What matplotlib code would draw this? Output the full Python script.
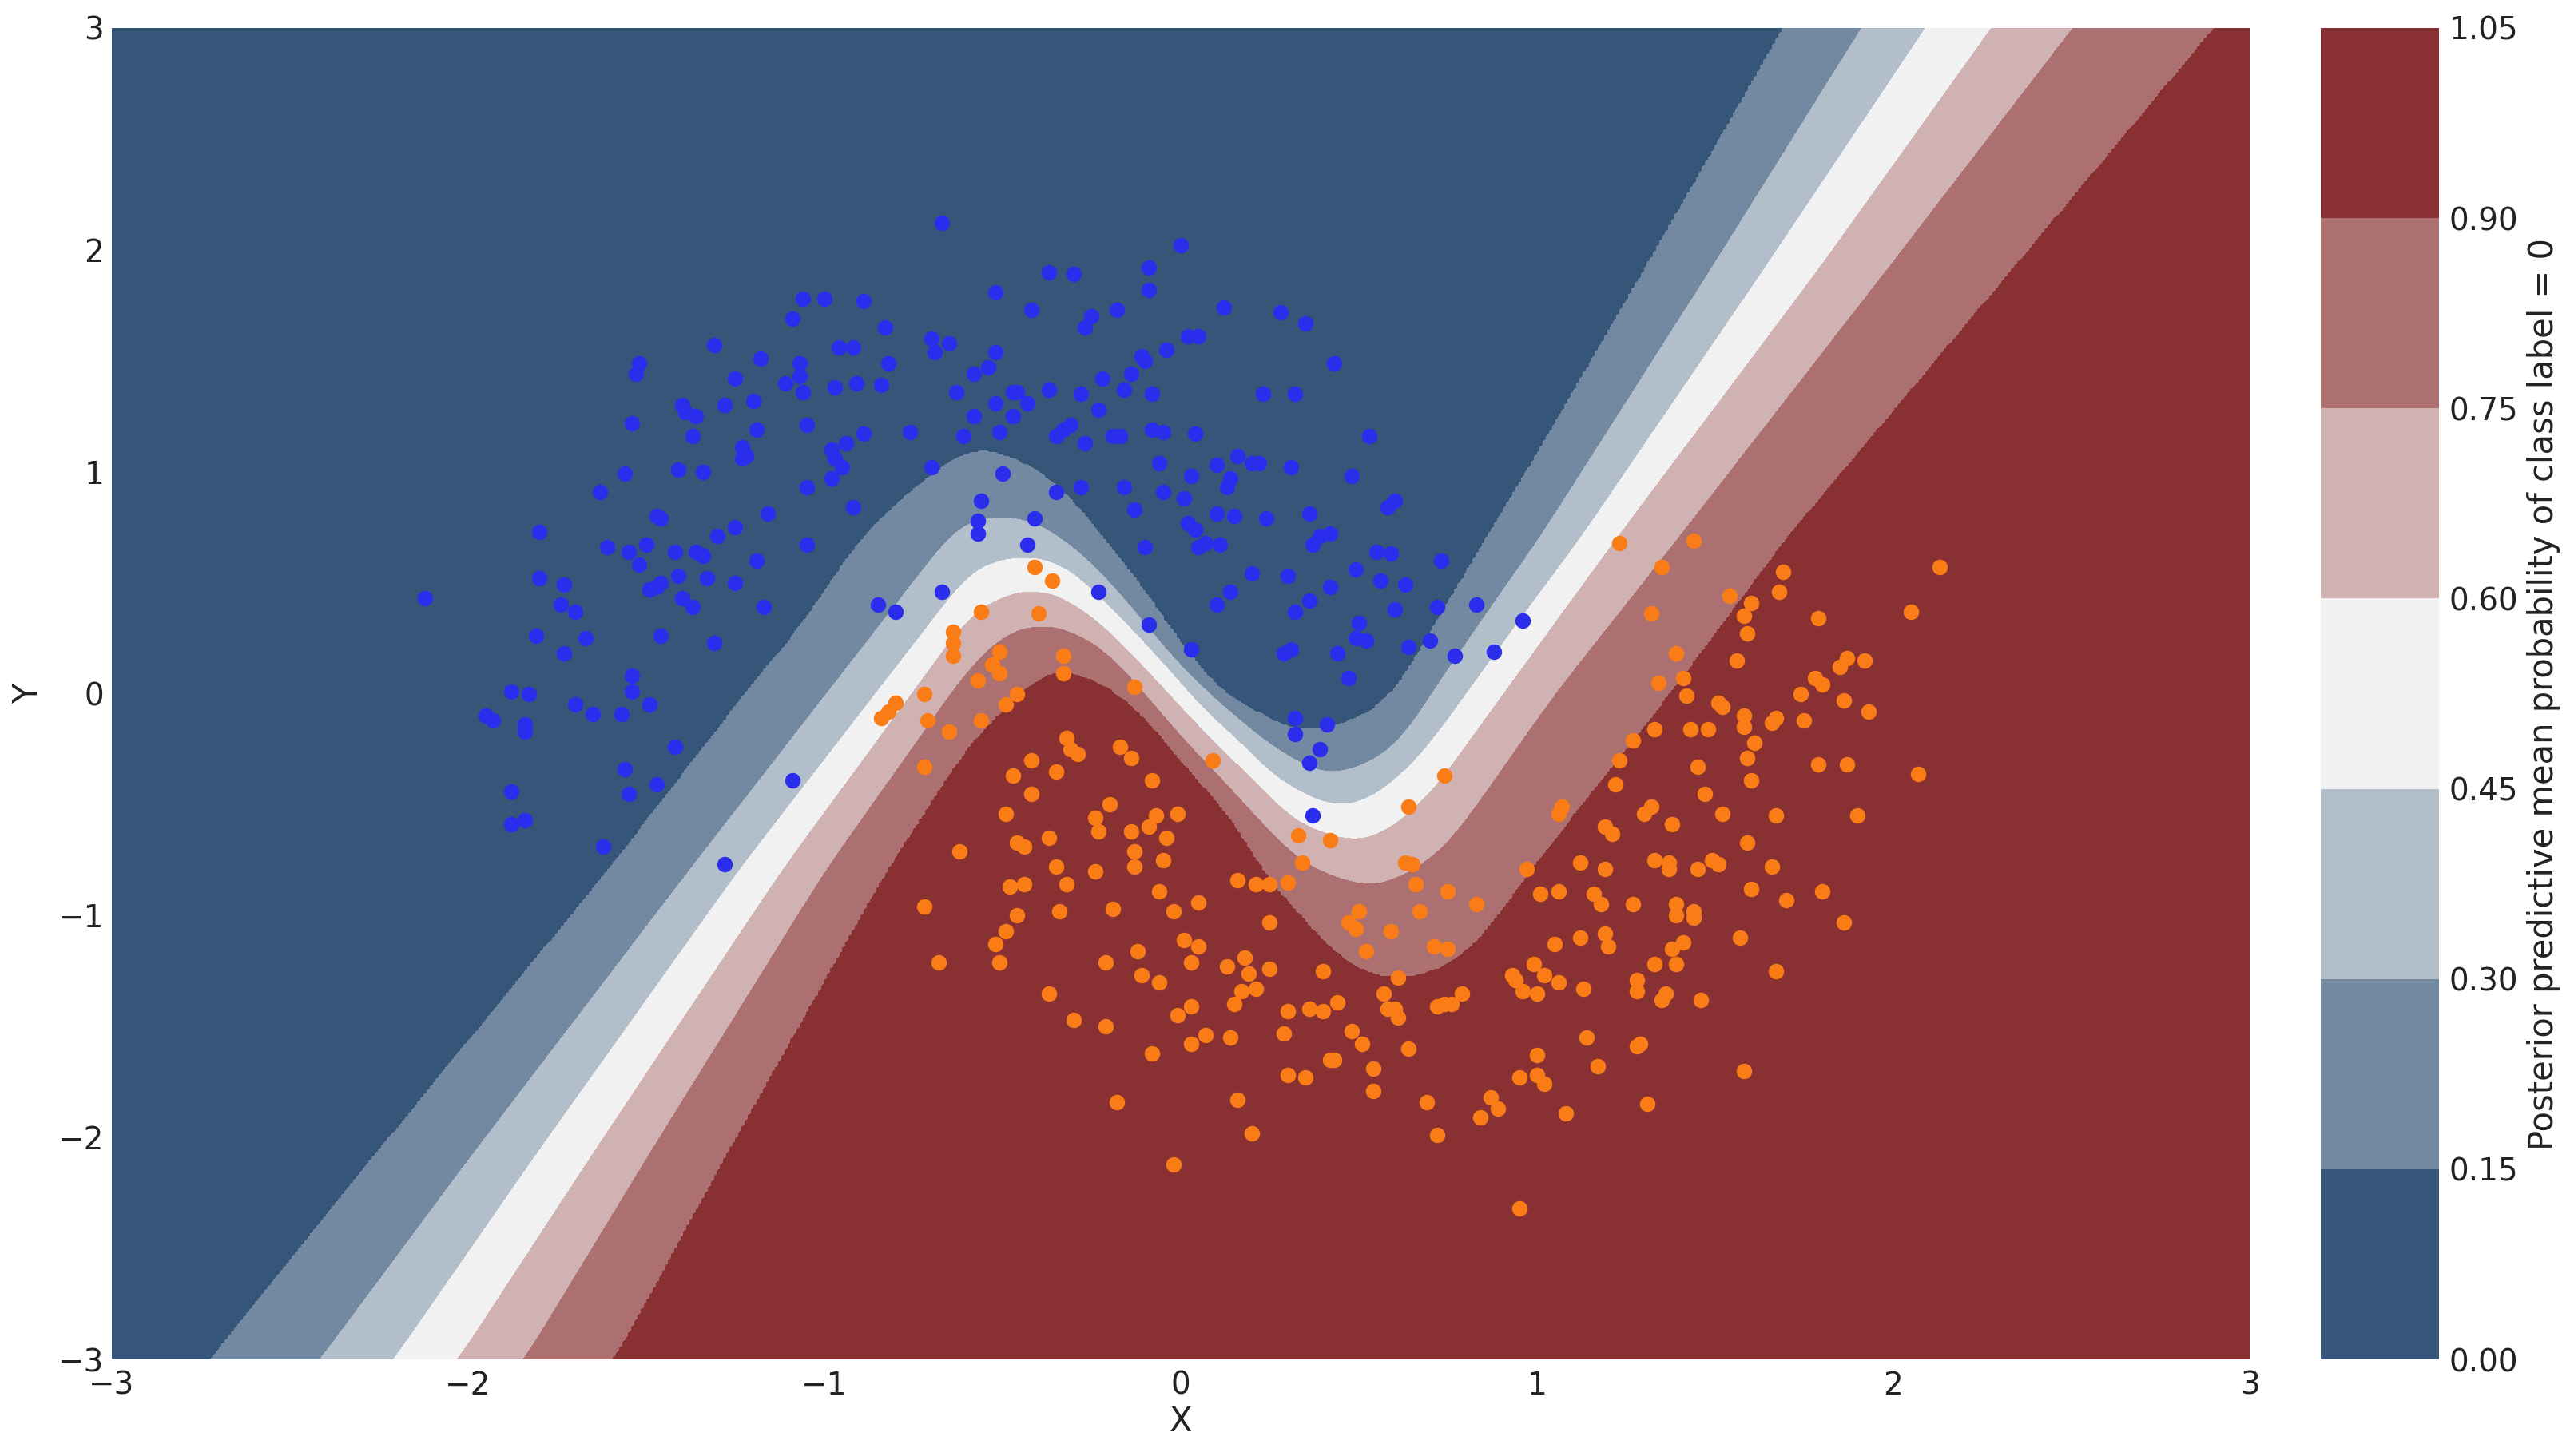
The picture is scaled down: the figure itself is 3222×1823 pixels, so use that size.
import numpy as np
import matplotlib
matplotlib.use("Agg")
import matplotlib.pyplot as plt
import seaborn as sns

# test points, coloured by predicted class
class0_pts = np.array([
    (-0.67, 2.12), (-1.06, 1.78), (-1.00, 1.78), (-0.89, 1.77), (-1.09, 1.69), (-0.83, 1.65), (-1.31, 1.57),
    (-0.70, 1.60), (-0.65, 1.58), (-0.69, 1.54), (-0.96, 1.56), (-0.92, 1.56), (-1.18, 1.51), (-1.52, 1.49),
    (-1.53, 1.44), (-1.07, 1.49), (-1.07, 1.43), (-0.82, 1.49), (-1.25, 1.42), (-1.11, 1.40), (-1.06, 1.36),
    (-0.97, 1.38), (-0.91, 1.40), (-0.84, 1.39), (-0.63, 1.36), (-1.40, 1.30), (-1.39, 1.27), (-1.36, 1.25),
    (-1.28, 1.30), (-1.20, 1.32), (-1.54, 1.22), (-1.37, 1.16), (-1.19, 1.19), (-1.05, 1.21), (-0.89, 1.17),
    (-0.76, 1.18), (-0.61, 1.16), (-1.23, 1.11), (-1.22, 1.07), (-1.23, 1.06), (-0.98, 1.10), (-0.97, 1.06),
    (-0.95, 1.02), (-0.94, 1.13), (-0.98, 0.97), (-0.70, 1.02), (-1.56, 0.99), (-1.41, 1.01), (-1.34, 1.00),
    (-1.63, 0.91), (-1.05, 0.93), (-1.47, 0.80), (-1.46, 0.79), (-1.16, 0.81), (-0.92, 0.84), (-1.25, 0.75),
    (-1.80, 0.73), (-1.30, 0.71),
    (0.00, 2.02), (-0.37, 1.90), (-0.30, 1.89), (-0.09, 1.92), (-0.09, 1.82), (-0.52, 1.81), (-0.42, 1.73),
    (-0.25, 1.70), (-0.27, 1.65), (-0.18, 1.73), (0.12, 1.74), (0.28, 1.72), (0.35, 1.67), (0.02, 1.61),
    (0.05, 1.61), (-0.04, 1.55), (-0.11, 1.52), (-0.10, 1.50), (-0.52, 1.54), (-0.54, 1.47), (-0.58, 1.44),
    (0.43, 1.49), (-0.14, 1.44), (-0.22, 1.42), (-0.16, 1.37), (-0.47, 1.36), (-0.46, 1.36), (-0.37, 1.37),
    (-0.28, 1.35), (-0.08, 1.35), (0.23, 1.35), (0.32, 1.35), (-0.52, 1.31), (-0.43, 1.31), (-0.23, 1.28),
    (-0.58, 1.25), (-0.47, 1.25), (-0.51, 1.18), (-0.31, 1.21), (-0.33, 1.19), (-0.35, 1.16), (-0.27, 1.13),
    (-0.19, 1.16), (-0.17, 1.16), (-0.08, 1.19), (-0.05, 1.18), (0.04, 1.17), (0.53, 1.16), (-0.50, 0.99),
    (-0.06, 1.04), (0.10, 1.03), (0.16, 1.07), (0.20, 1.04), (0.22, 1.04), (0.31, 1.02), (0.48, 0.98),
    (0.03, 0.98), (0.14, 0.97), (0.13, 0.93), (-0.35, 0.91), (-0.28, 0.93), (-0.16, 0.93), (-0.05, 0.91),
    (0.01, 0.88), (-0.56, 0.87), (-0.57, 0.78), (-0.57, 0.72), (-0.41, 0.79), (-0.13, 0.83), (0.10, 0.81),
    (0.15, 0.80), (0.24, 0.79), (0.36, 0.81), (0.58, 0.84), (0.60, 0.87), (0.02, 0.77), (0.04, 0.74),
    (0.42, 0.72), (0.39, 0.71),
    (-0.43, 0.67), (-0.10, 0.66), (0.05, 0.66), (0.07, 0.68), (0.11, 0.67), (0.37, 0.67), (0.55, 0.64),
    (0.59, 0.63), (0.73, 0.60), (0.20, 0.54), (0.30, 0.53), (0.49, 0.56), (0.56, 0.51), (0.63, 0.49),
    (0.42, 0.48), (-0.23, 0.46), (0.14, 0.46), (0.10, 0.40), (0.36, 0.42), (0.32, 0.37), (0.60, 0.38),
    (0.72, 0.39), (0.83, 0.40), (0.96, 0.33), (-0.09, 0.31), (0.50, 0.32), (0.49, 0.25), (0.52, 0.24),
    (0.03, 0.20), (0.29, 0.18), (0.31, 0.20), (0.44, 0.18), (0.64, 0.21), (0.70, 0.24), (0.77, 0.17),
    (0.88, 0.19), (0.47, 0.07), (0.32, -0.11), (0.32, -0.18), (0.41, -0.14), (0.39, -0.25), (0.36, -0.31),
    (0.37, -0.55),
    (-1.61, 0.66), (-1.55, 0.64), (-1.50, 0.67), (-1.42, 0.64), (-1.36, 0.64), (-1.34, 0.62), (-1.05, 0.67),
    (-1.19, 0.60), (-1.52, 0.58), (-1.80, 0.52), (-1.73, 0.49), (-1.46, 0.50), (-1.49, 0.47), (-1.47, 0.48),
    (-1.41, 0.53), (-1.33, 0.52), (-1.25, 0.50), (-2.12, 0.43), (-1.74, 0.40), (-1.70, 0.37), (-1.40, 0.43),
    (-1.37, 0.39), (-1.17, 0.39), (-0.85, 0.40), (-0.80, 0.37), (-0.67, 0.46), (-1.81, 0.26), (-1.67, 0.25),
    (-1.46, 0.26), (-1.31, 0.23), (-1.73, 0.18), (-1.54, 0.08), (-1.54, 0.01), (-1.88, 0.01), (-1.83, 0.00),
    (-1.70, -0.05), (-1.65, -0.09), (-1.57, -0.09), (-1.49, -0.05), (-1.95, -0.10), (-1.93, -0.12),
    (-1.84, -0.14), (-1.84, -0.17), (-1.42, -0.24), (-1.56, -0.34), (-1.88, -0.44), (-1.55, -0.45),
    (-1.47, -0.41), (-1.84, -0.57), (-1.88, -0.59), (-1.62, -0.69), (-1.09, -0.39), (-1.28, -0.77),
])

class1_pts = np.array([
    (-0.64, 0.28), (-0.64, 0.23), (-0.64, 0.17), (-0.72, 0.00), (-0.80, -0.04), (-0.82, -0.08), (-0.84, -0.11),
    (-0.71, -0.12), (-0.65, -0.17), (-0.72, -0.33), (-0.62, -0.71),
    (-0.41, 0.57), (-0.36, 0.51), (-0.56, 0.37), (-0.40, 0.36), (-0.51, 0.19), (-0.53, 0.13), (-0.51, 0.09),
    (-0.57, 0.06), (-0.33, 0.17), (-0.33, 0.09), (-0.13, 0.03), (-0.46, 0.00), (-0.49, -0.05), (-0.56, -0.12),
    (-0.32, -0.20), (-0.31, -0.25), (-0.29, -0.27), (-0.17, -0.24), (-0.14, -0.29), (-0.42, -0.30),
    (-0.35, -0.35), (-0.47, -0.37), (-0.42, -0.45), (-0.08, -0.39), (0.09, -0.30), (-0.20, -0.50),
    (-0.49, -0.54), (-0.24, -0.56), (-0.23, -0.62), (-0.07, -0.55), (-0.09, -0.60), (-0.01, -0.54),
    (-0.14, -0.62), (-0.04, -0.65), (-0.46, -0.67), (-0.44, -0.69), (-0.37, -0.65), (-0.13, -0.71),
    (-0.05, -0.75), (-0.13, -0.78), (-0.35, -0.78), (-0.24, -0.80), (0.33, -0.64), (0.42, -0.66),
    (0.34, -0.76), (0.74, -0.37), (0.64, -0.51), (0.63, -0.76), (0.65, -0.77), (0.97, -0.79),
    (1.23, 0.68), (1.44, 0.69), (1.35, 0.57), (1.69, 0.55), (2.13, 0.57), (1.68, 0.46), (1.54, 0.44),
    (1.60, 0.41), (1.58, 0.35), (1.32, 0.36), (1.79, 0.34), (2.05, 0.37), (1.59, 0.27), (1.39, 0.18),
    (1.56, 0.15), (1.87, 0.16), (1.85, 0.12), (1.92, 0.15), (1.78, 0.07), (1.80, 0.04), (1.34, 0.05),
    (1.41, 0.07), (1.42, -0.01), (1.74, 0.00), (1.86, -0.03), (1.93, -0.08), (1.51, -0.04), (1.52, -0.06),
    (1.58, -0.10), (1.58, -0.15), (1.67, -0.11), (1.66, -0.13), (1.75, -0.12), (1.33, -0.16), (1.43, -0.16),
    (1.48, -0.16), (1.27, -0.21), (1.61, -0.22), (1.23, -0.30), (1.59, -0.29), (1.45, -0.33), (1.79, -0.32),
    (1.87, -0.32), (2.07, -0.36), (1.22, -0.41), (1.60, -0.39), (1.47, -0.45), (1.07, -0.51), (1.06, -0.54),
    (1.32, -0.51), (1.30, -0.54), (1.52, -0.54), (1.67, -0.55), (1.90, -0.55), (1.19, -0.60), (1.21, -0.63),
    (1.38, -0.59), (1.59, -0.67), (1.12, -0.76), (1.33, -0.75), (1.37, -0.76), (1.49, -0.75), (1.51, -0.77),
    (1.66, -0.78), (1.19, -0.79), (1.45, -0.79), (1.37, -0.79),
    (0.16, -0.84), (-0.48, -0.87), (-0.44, -0.86), (-0.32, -0.86), (-0.06, -0.89), (0.21, -0.86),
    (0.25, -0.86), (0.30, -0.85), (0.66, -0.86), (-0.72, -0.96), (-0.46, -1.00), (-0.34, -0.98),
    (-0.19, -0.97), (-0.02, -0.98), (0.05, -0.94), (0.25, -1.03), (0.50, -0.98), (0.67, -0.98), (0.47, -1.03),
    (0.49, -1.06), (0.59, -1.07), (-0.49, -1.07), (-0.52, -1.13), (-0.51, -1.21), (-0.68, -1.21),
    (-0.21, -1.21), (-0.12, -1.16), (0.01, -1.11), (0.05, -1.14), (0.03, -1.21), (-0.11, -1.27),
    (-0.06, -1.30), (0.13, -1.23), (0.18, -1.19), (0.19, -1.26), (0.25, -1.24), (0.17, -1.34), (0.21, -1.33),
    (0.40, -1.25), (0.52, -1.16), (0.61, -1.28), (-0.37, -1.35), (-0.30, -1.47), (-0.21, -1.50), (0.03, -1.41),
    (-0.01, -1.45), (0.15, -1.40), (0.57, -1.35), (0.30, -1.43), (0.36, -1.42), (0.40, -1.43), (0.44, -1.39),
    (0.58, -1.42), (0.60, -1.42), (0.61, -1.46), (0.07, -1.54), (0.03, -1.58), (0.14, -1.55), (0.29, -1.53),
    (0.48, -1.52), (0.51, -1.58), (0.64, -1.60), (-0.08, -1.62), (0.42, -1.65), (0.43, -1.65), (0.54, -1.69),
    (0.30, -1.72), (0.35, -1.73), (0.54, -1.79), (-0.18, -1.84), (0.16, -1.83), (0.69, -1.84), (0.20, -1.98),
    (-0.02, -2.12),
    (0.75, -0.89), (0.83, -0.95), (1.01, -0.90), (1.06, -0.89), (1.16, -0.90), (1.18, -0.95), (1.27, -0.95),
    (1.39, -0.95), (1.39, -1.00), (1.44, -0.98), (1.44, -1.01), (1.60, -0.88), (1.70, -0.93), (1.80, -0.89),
    (1.86, -1.03), (0.71, -1.14), (0.75, -1.15), (1.05, -1.13), (1.12, -1.10), (1.19, -1.08), (1.20, -1.14),
    (1.41, -1.12), (1.38, -1.15), (1.57, -1.10), (1.39, -1.22), (1.33, -1.22), (0.99, -1.22), (0.93, -1.27),
    (0.94, -1.29), (1.02, -1.27), (1.06, -1.30), (0.96, -1.34), (1.00, -1.35), (1.13, -1.33), (1.28, -1.29),
    (1.28, -1.34), (1.36, -1.35), (1.35, -1.38), (1.46, -1.38), (1.67, -1.25), (0.79, -1.35), (0.72, -1.41),
    (0.74, -1.40), (0.76, -1.40), (1.14, -1.55), (1.28, -1.59), (1.29, -1.58), (1.00, -1.63), (1.17, -1.68),
    (1.58, -1.70), (0.95, -1.73), (1.00, -1.72), (1.02, -1.76), (0.87, -1.82), (0.89, -1.87), (0.84, -1.91),
    (1.08, -1.89), (1.31, -1.85), (0.72, -1.99), (0.95, -2.32),
])

# contour band edges (y as a function of x)
edge015_x = [-3.5, -2.721, -2.265, -1.606, -1.242, -1.048, -0.897, -0.75, -0.601, -0.570, -0.499, -0.417, -0.356,
             -0.295, -0.218, -0.101, 0.012, 0.114, 0.216, 0.287, 0.389, 0.471, 0.573, 0.655, 0.726, 0.86, 0.999,
             1.395, 1.695, 3.5]
edge015_y = [-4.56, -3.0, -2.094, -0.802, -0.048, 0.336, 0.696, 0.92, 1.092, 1.096, 1.078, 1.018, 0.946,
             0.850, 0.696, 0.456, 0.192, 0.0, -0.084, -0.156, -0.174, -0.132, -0.048, 0.132, 0.336, 0.696, 1.066,
             2.16, 3.0, 8.0]
edge030_x = [-3.5, -2.414, -1.995, -1.381, -0.656, -0.601, -0.519, -0.438, -0.376, -0.330, -0.244, -0.142, -0.040,
             0.063, 0.165, 0.267, 0.400, 0.522, 0.624, 0.700, 0.85, 1.006, 1.492, 1.912, 3.5]
edge030_y = [-5.17, -3.0, -2.094, -0.802, 0.696, 0.777, 0.795, 0.789, 0.741, 0.696, 0.576, 0.396, 0.192,
             0.024, -0.120, -0.252, -0.366, -0.324, -0.204, -0.012, 0.34, 0.696, 1.92, 3.0, 7.0]
edge045_x = [-3.5, -2.207, -1.816, -1.242, -0.601, -0.540, -0.448, -0.346, -0.264, -0.172, -0.040, 0.063, 0.165,
             0.267, 0.420, 0.522, 0.624, 0.700, 0.954, 1.121, 1.641, 2.091, 3.5]
edge045_y = [-5.6, -3.0, -2.094, -0.802, 0.528, 0.588, 0.618, 0.594, 0.492, 0.348, 0.120, -0.072, -0.216,
             -0.384, -0.510, -0.486, -0.360, -0.228, 0.336, 0.696, 1.92, 3.0, 6.4]
edge060_x = [-3.5, -2.027, -1.658, -1.121, -0.601, -0.499, -0.397, -0.315, -0.213, -0.090, 0.012, 0.114, 0.216,
             0.318, 0.471, 0.573, 0.700, 0.961, 1.222, 1.794, 2.276, 3.5]
edge060_y = [-5.95, -3.0, -2.094, -0.802, 0.336, 0.444, 0.468, 0.420, 0.300, 0.096, -0.084, -0.252, -0.408,
             -0.577, -0.667, -0.631, -0.457, 0.120, 0.696, 1.92, 3.0, 5.9]
edge075_x = [-3.5, -1.841, -1.499, -0.999, -0.601, -0.499, -0.397, -0.295, -0.193, -0.090, 0.012, 0.114, 0.216,
             0.318, 0.387, 0.521, 0.607, 0.700, 0.777, 1.047, 1.394, 1.987, 2.504, 3.5]
edge075_y = [-6.3, -3.0, -2.094, -0.802, 0.10, 0.264, 0.314, 0.276, 0.168, -0.024, -0.216, -0.384, -0.564,
             -0.733, -0.801, -0.869, -0.837, -0.75, -0.625, -0.01, 0.696, 1.92, 3.0, 5.0]
edge090_x = [-3.5, -1.591, -1.283, -0.829, -0.601, -0.499, -0.397, -0.33, -0.295, -0.193, -0.090, 0.012, 0.114,
             0.195, 0.230, 0.348, 0.444, 0.540, 0.620, 0.700, 0.786, 0.872, 0.968, 1.383, 1.695, 2.335, 2.898, 3.5]
edge090_y = [-6.7, -3.0, -2.094, -0.802, -0.24, -0.072, 0.084, 0.105, 0.096, 0.024, -0.120, -0.324, -0.504,
             -0.685, -0.802, -1.017, -1.185, -1.269, -1.28, -1.257, -1.185, -1.041, -0.819, 0.024, 0.696, 1.92,
             3.0, 4.2]

levels = [0.0, 0.15, 0.30, 0.45, 0.60, 0.75, 0.90, 1.05]

# build the probability surface from the band edges (edges lightly smoothed)
gx = np.linspace(-3, 3, 700)
gy = np.linspace(-3, 3, 700)
fine_x = np.linspace(-3.5, 3.5, 1401)
kernel = np.ones(25) / 25
edges = [(edge090_x, edge090_y), (edge075_x, edge075_y), (edge060_x, edge060_y),
         (edge045_x, edge045_y), (edge030_x, edge030_y), (edge015_x, edge015_y)]
edge_vals = [0.90, 0.75, 0.60, 0.45, 0.30, 0.15]
ey = []
for ex, eyy in edges:
    smooth = np.convolve(np.interp(fine_x, ex, eyy), kernel, mode='same')
    ey.append(np.interp(gx, fine_x, smooth))
ey = np.array(ey)
prob = np.zeros((gy.size, gx.size))
for j in range(gx.size):
    xp = np.concatenate([[ey[0, j] - 50], ey[:, j], [ey[-1, j] + 50]])
    fp = np.concatenate([[1.0], edge_vals, [0.0]])
    prob[:, j] = np.interp(gy, xp, fp)
GX, GY = np.meshgrid(gx, gy)

plt.rcParams['font.family'] = ['DejaVu Sans']
text_c = '#222222'

cmap = sns.diverging_palette(250, 12, s=85, l=25, as_cmap=True)

fig = plt.figure(figsize=(3223 / 200, 1823 / 200), dpi=200)
ax = fig.add_axes([140 / 3223, 121 / 1823, 2676 / 3223, 1667 / 1823])
cax = fig.add_axes([2905 / 3223, 121 / 1823, 148 / 3223, 1667 / 1823])

contour = ax.contourf(GX, GY, prob, levels=levels, cmap=cmap)
ax.scatter(class0_pts[:, 0], class0_pts[:, 1], color='#2a2eec', zorder=3)
ax.scatter(class1_pts[:, 0], class1_pts[:, 1], color='#fa7c17', zorder=3)

ax.set_xlim(-3, 3)
ax.set_ylim(-3, 3)
ax.set_xticks(range(-3, 4))
ax.set_yticks(range(-3, 4))
ax.set_xlabel('X', fontsize=15, color=text_c, labelpad=2)
ax.set_ylabel('Y', fontsize=15, color=text_c, labelpad=6)
ax.tick_params(length=0, labelsize=14, labelcolor=text_c)
ax.tick_params(axis='x', pad=5)
ax.tick_params(axis='y', pad=3.5)
for s in ax.spines.values():
    s.set_visible(False)

cbar = fig.colorbar(contour, cax=cax)
cbar.outline.set_visible(False)
cbar.ax.tick_params(length=0, labelsize=14, labelcolor=text_c, pad=4.5)
cbar.ax.set_ylabel('Posterior predictive mean probability of class label = 0', fontsize=15, color=text_c)

fig.savefig('out.png', dpi=200)
